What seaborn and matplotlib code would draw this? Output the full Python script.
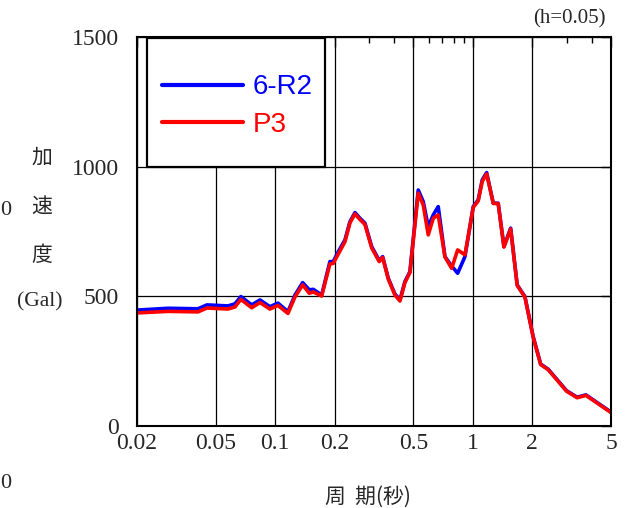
import matplotlib
matplotlib.use('Agg')
import matplotlib.pyplot as plt
import matplotlib.ticker as mticker
from matplotlib.patches import Rectangle
import pandas as pd
import seaborn as sns


period = [0.020, 0.0287, 0.0407, 0.0452, 0.0577, 0.0626, 0.0671, 0.0761, 0.0838, 0.0941,
          0.1033, 0.1161, 0.126, 0.1378, 0.1488, 0.1559, 0.1719, 0.1893, 0.1968, 0.2086,
          0.2254, 0.239, 0.2534, 0.2686, 0.2847, 0.3078, 0.3363, 0.3498, 0.3734, 0.4036,
          0.4278, 0.4535, 0.4807, 0.5296, 0.5614, 0.595, 0.6308, 0.6684, 0.7228, 0.7815,
          0.8382, 0.9124, 1.005, 1.065, 1.116, 1.175, 1.269, 1.344, 1.437, 1.554,
          1.677, 1.835, 2.021, 2.204, 2.407, 2.982, 3.374, 3.734, 5.0]
acc_6r2 = [447, 454, 452, 467, 463, 471, 499, 467, 486, 460,
           474, 441, 505, 553, 525, 527, 505, 634, 634, 672,
           717, 788, 823, 801, 782, 692, 638, 653, 570, 509,
           486, 557, 595, 910, 865, 768, 814, 846, 653, 617,
           589, 653, 846, 872, 949, 977, 859, 859, 692, 763,
           544, 499, 344, 239, 219, 136, 111, 120, 54]
acc_p3 = [436, 442, 440, 455, 451, 459, 488, 456, 476, 451,
          465, 434, 498, 544, 512, 517, 501, 625, 627, 663,
          710, 783, 818, 796, 777, 687, 634, 650, 567, 505,
          482, 553, 592, 898, 852, 737, 801, 814, 652, 608,
          679, 660, 843, 868, 943, 972, 858, 858, 690, 760,
          542, 497, 342, 237, 217, 134, 109, 118, 52]

x_ticks = [0.02, 0.05, 0.1, 0.2, 0.5, 1, 2, 5]
x_labels = ['0.02', '0.05', '0.1', '0.2', '0.5', '1', '2', '5']
y_ticks = [0, 500, 1000, 1500]

n = len(period)
df = pd.DataFrame({
    'period': period + period,
    'acc': acc_6r2 + acc_p3,
    'wave': ['6-R2'] * n + ['P3'] * n,
})

sns.set_style('white')
plt.rcParams['font.family'] = ['Liberation Serif', 'Noto Sans CJK JP']

fig = plt.figure(figsize=(6.33, 5.08), dpi=100)
ax = fig.add_axes([0.2164, 0.1614, 0.7488, 0.7658])

sns.lineplot(data=df, x='period', y='acc', hue='wave',
             palette={'6-R2': '#0000ff', 'P3': '#ff0000'},
             lw=2.6, sort=False, estimator=None, ax=ax)

ax.set_xscale('log')
ax.set_xlim(0.02, 5)
ax.set_ylim(0, 1500)
ax.xaxis.set_major_locator(mticker.FixedLocator(x_ticks))
ax.xaxis.set_major_formatter(mticker.FixedFormatter(x_labels))
ax.xaxis.set_minor_locator(mticker.LogLocator(base=10, subs=range(1, 10)))
ax.xaxis.set_minor_formatter(mticker.NullFormatter())
ax.set_yticks(y_ticks)
ax.set_xlabel('')
ax.set_ylabel('')

ax.tick_params(which='both', direction='in', top=True, right=True, color='black')
ax.tick_params(which='major', length=7, width=1, labelsize=17)
ax.tick_params(which='minor', length=4.5, width=1)
ax.tick_params(axis='y', pad=13)
ax.tick_params(axis='x', pad=5)
ax.grid(True, which='major', color='black', lw=0.9)
for s in ax.spines.values():
    s.set_color('black')
    s.set_linewidth(1.5)

# legend box
handles, labels = ax.get_legend_handles_labels()
ax.add_patch(Rectangle((0.021, 0.666), 0.376, 0.331, transform=ax.transAxes,
                       facecolor='white', edgecolor='black', lw=1.6, zorder=3))
leg = ax.legend(handles, labels, loc='center left', bbox_to_anchor=(0.024, 0.822),
                frameon=False, borderpad=0, handlelength=2.9, handletextpad=0.35,
                labelspacing=0.42, labelcolor='linecolor',
                prop={'family': 'Liberation Sans', 'size': 20})
leg.set_zorder(4)
for h in leg.get_lines():
    h.set_linewidth(3)

cjk = 'Noto Sans CJK JP'
fig.text(0.066, 0.689, '加', family=cjk, size=15, ha='center', va='center')
fig.text(0.066, 0.593, '速', family=cjk, size=15, ha='center', va='center')
fig.text(0.066, 0.498, '度', family=cjk, size=15, ha='center', va='center')
fig.text(0.063, 0.406, '(Gal)', size=15.5, ha='center', va='center')
fig.text(0.957, 0.963, '(h=0.05)', size=15, ha='right', va='center')
fig.text(0.581, 0.022, '周  期(秒)', family=cjk, size=15, ha='center', va='center')
fig.text(0.0, 0.585, '0', size=16, ha='left', va='center')
fig.text(0.0, 0.049, '0', size=16, ha='left', va='center')

fig.savefig('out.png', dpi=100)
